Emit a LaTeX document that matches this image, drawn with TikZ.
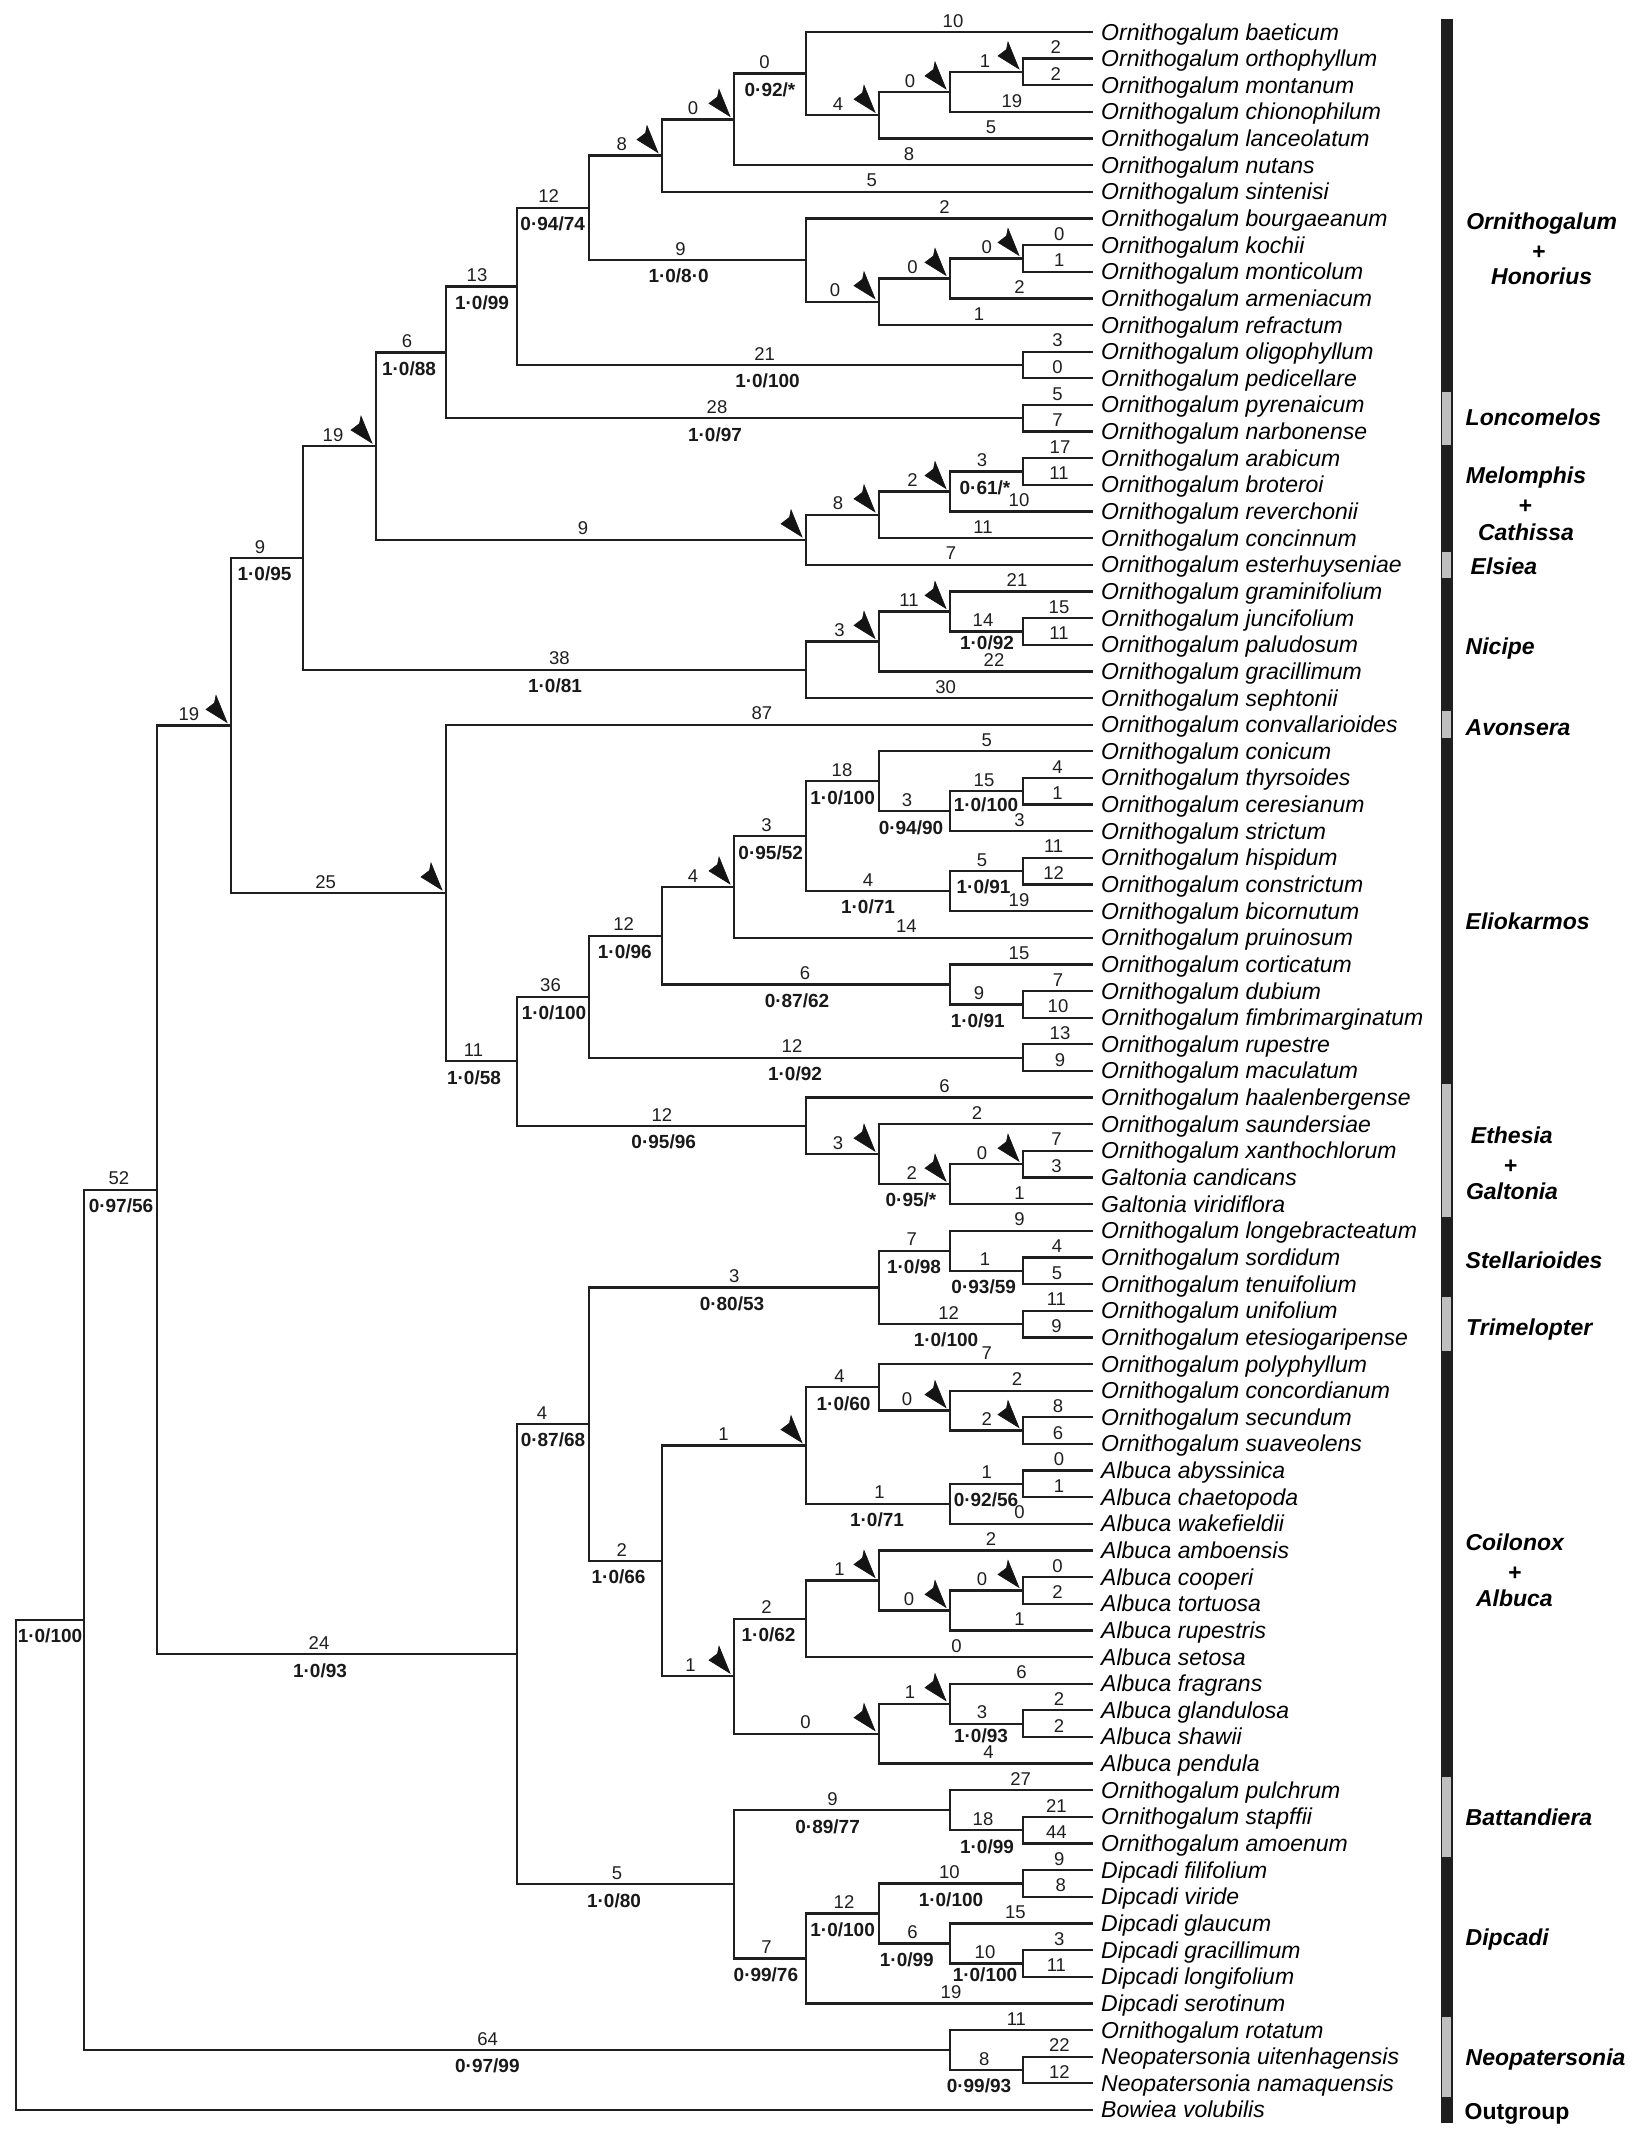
\documentclass[tikz,border=0pt]{standalone}
\usepackage{fontspec}
\setmainfont{Liberation Sans}
\newcommand\nd[3]{\coordinate (#1) at (#2,{Y(#3)});}
\newcommand\bn[5]{\draw[branch] (#1) |- (#2); \node[num] (n#2) at (#3,{Y(#4)-4.9}) {#5};}
\newcommand\bs[7]{\draw[branch] (#1) |- (#2); \node[num] (n#2) at (#3,{Y(#5)-4.9}) {#6}; \node[sup] (s#2) at (#4,{Y(#5)+22.8}) {#7};}
\newcommand\bsu[8]{\draw[branch] (#1) |- (#2); \node[num] (n#2) at (#3,{Y(#5)-4.9}) {#6}; \node[sup] (s#2) at (#4,{Y(#5)+#8}) {#7};}
\newcommand\fl[1]{\fill[flag] ([shift={(-4,-3)}]#1) -- ++(-11,-27) -- ++(-1.5,7.5) -- ++(-8.5,6.5) -- cycle;}
\begin{document}
\begin{tikzpicture}[x=1pt,y=-1pt,
  declare function={Y(\k)=32+(\k-1)*26.64;},
  branch/.style={line width=2.3pt, draw=black!88},
  num/.style={inner sep=0pt, anchor=base, font=\fontsize{18.5}{20}\selectfont, text=black!88},
  sup/.style={inner sep=0pt, anchor=base, font=\fontsize{19}{21}\selectfont\bfseries, text=black!90},
  leaf/.style={inner sep=0pt, anchor=base west, font=\fontsize{23}{25}\selectfont\itshape},
  clade/.style={inner sep=0pt, anchor=base west, font=\fontsize{23}{25}\selectfont\bfseries\itshape},
  cladec/.style={clade, anchor=base},
  flag/.style={fill=black!92, draw=black!92, line width=0.6pt, line join=miter}]
\useasboundingbox[fill=white] (0,0) rectangle (1633,2142);

% leaves
\foreach \i/\nm in {1/Ornithogalum baeticum,2/Ornithogalum orthophyllum,3/Ornithogalum montanum,4/Ornithogalum chionophilum,5/Ornithogalum lanceolatum,6/Ornithogalum nutans,7/Ornithogalum sintenisi,8/Ornithogalum bourgaeanum,9/Ornithogalum kochii,10/Ornithogalum monticolum,11/Ornithogalum armeniacum,12/Ornithogalum refractum,13/Ornithogalum oligophyllum,14/Ornithogalum pedicellare,15/Ornithogalum pyrenaicum,16/Ornithogalum narbonense,17/Ornithogalum arabicum,18/Ornithogalum broteroi,19/Ornithogalum reverchonii,20/Ornithogalum concinnum,21/Ornithogalum esterhuyseniae,22/Ornithogalum graminifolium,23/Ornithogalum juncifolium,24/Ornithogalum paludosum,25/Ornithogalum gracillimum,26/Ornithogalum sephtonii,27/Ornithogalum convallarioides,28/Ornithogalum conicum,29/Ornithogalum thyrsoides,30/Ornithogalum ceresianum,31/Ornithogalum strictum,32/Ornithogalum hispidum,33/Ornithogalum constrictum,34/Ornithogalum bicornutum,35/Ornithogalum pruinosum,36/Ornithogalum corticatum,37/Ornithogalum dubium,38/Ornithogalum fimbrimarginatum,39/Ornithogalum rupestre,40/Ornithogalum maculatum,41/Ornithogalum haalenbergense,42/Ornithogalum saundersiae,43/Ornithogalum xanthochlorum,44/Galtonia candicans,45/Galtonia viridiflora,46/Ornithogalum longebracteatum,47/Ornithogalum sordidum,48/Ornithogalum tenuifolium,49/Ornithogalum unifolium,50/Ornithogalum etesiogaripense,51/Ornithogalum polyphyllum,52/Ornithogalum concordianum,53/Ornithogalum secundum,54/Ornithogalum suaveolens,55/Albuca abyssinica,56/Albuca chaetopoda,57/Albuca wakefieldii,58/Albuca amboensis,59/Albuca cooperi,60/Albuca tortuosa,61/Albuca rupestris,62/Albuca setosa,63/Albuca fragrans,64/Albuca glandulosa,65/Albuca shawii,66/Albuca pendula,67/Ornithogalum pulchrum,68/Ornithogalum stapffii,69/Ornithogalum amoenum,70/Dipcadi filifolium,71/Dipcadi viride,72/Dipcadi glaucum,73/Dipcadi gracillimum,74/Dipcadi longifolium,75/Dipcadi serotinum,76/Ornithogalum rotatum,77/Neopatersonia uitenhagensis,78/Neopatersonia namaquensis,79/Bowiea volubilis}{
  \coordinate (l\i) at (1093,{Y(\i)});
  \node[leaf] (t\i) at (1101,{Y(\i)+8}) {\nm};
}

% internal nodes
\nd{root}{16}{69.80301}
\nd{A}{84}{60.60602}
\nd{B}{157}{44.46204}
\nd{C}{231}{27.02954}
\nd{D}{517}{61.89453}
\nd{E}{303}{20.74072}
\nd{F}{446}{33.31836}
\nd{G}{376}{16.54395}
\nd{Nic}{806}{24.9375}
\nd{H}{446}{13.02539}
\nd{Melo}{806}{20.0625}
\nd{I}{517}{10.55078}
\nd{Lonc}{1023}{15.5}
\nd{J}{589}{7.6015625}
\nd{Olig}{1023}{13.5}
\nd{K}{662}{5.640625}
\nd{L}{806}{9.5625}
\nd{M}{734}{4.28125}
\nd{N}{806}{2.5625}
\nd{O}{879}{4.125}
\nd{P}{950}{3.25}
\nd{Q}{1023}{2.5}
\nd{R}{879}{11.125}
\nd{S}{950}{10.25}
\nd{T}{1023}{9.5}
\nd{U}{879}{19.125}
\nd{V}{950}{18.25}
\nd{W}{1023}{17.5}
\nd{X}{879}{23.875}
\nd{Yy}{950}{22.75}
\nd{Z}{1023}{23.5}
\nd{AA}{517}{39.63672}
\nd{AB}{589}{37.2109375}
\nd{AC}{806}{42.0625}
\nd{AD}{662}{34.921875}
\nd{AE}{1023}{39.5}
\nd{AF}{734}{33.09375}
\nd{AG}{950}{36.75}
\nd{AH}{1023}{37.5}
\nd{AI}{806}{31.1875}
\nd{AJ}{879}{29.125}
\nd{AK}{950}{33.25}
\nd{AL}{950}{30.25}
\nd{AM}{1023}{29.5}
\nd{AN}{1023}{32.5}
\nd{AO}{879}{43.125}
\nd{AP}{950}{44.25}
\nd{AQ}{1023}{43.5}
\nd{AR}{589}{53.25781}
\nd{AS}{734}{70.53125}
\nd{AT}{879}{48.125}
\nd{AU}{662}{58.39063}
\nd{AV}{950}{46.75}
\nd{AW}{1023}{49.5}
\nd{AX}{1023}{47.5}
\nd{AY}{806}{54.0625}
\nd{AZ}{734}{62.71875}
\nd{BA}{879}{51.875}
\nd{BB}{950}{56.25}
\nd{BC}{950}{52.75}
\nd{BD}{1023}{53.5}
\nd{BE}{1023}{55.5}
\nd{BF}{806}{60.5625}
\nd{BG}{879}{64.875}
\nd{BH}{879}{59.125}
\nd{BI}{950}{60.25}
\nd{BJ}{1023}{59.5}
\nd{BK}{950}{63.75}
\nd{BL}{1023}{64.5}
\nd{BM}{950}{67.75}
\nd{BN}{806}{73.3125}
\nd{BO}{1023}{68.5}
\nd{BP}{879}{71.625}
\nd{BQ}{1023}{70.5}
\nd{BR}{950}{72.75}
\nd{BS}{1023}{73.5}
\nd{Neo}{950}{76.75}
\nd{BT}{1023}{77.5}

% branches
\draw[branch] (root) |- (A); \node[sup] (sA) at (50,{Y(60.60602)+22.8}) {1·0/100};
\draw[branch] (root) |- (l79);
\bs{A}{B}{119}{121}{44.46204}{52}{0·97/56}
\bs{A}{Neo}{487.6}{487.4}{76.75}{64}{0·97/99}
\bn{B}{C}{189}{27.02954}{19}
\bs{B}{D}{319}{320}{61.89453}{24}{1·0/93}
\bs{C}{E}{260}{264.5}{20.74072}{9}{1·0/95}
\bn{C}{F}{325.6}{33.31836}{25}
\bn{E}{G}{333}{16.54395}{19}
\bs{E}{Nic}{559.4}{555}{24.9375}{38}{1·0/81}
\bs{G}{H}{407}{409}{13.02539}{6}{1·0/88}
\bn{G}{Melo}{583}{20.0625}{9}
\bs{H}{I}{477}{482}{10.55078}{13}{1·0/99}
\bs{H}{Lonc}{717}{715}{15.5}{28}{1·0/97}
\bs{I}{J}{548.7}{552.7}{7.6015625}{12}{0·94/74}
\bs{I}{Olig}{764.6}{767.5}{13.5}{21}{1·0/100}
\bn{J}{K}{621.8}{5.640625}{8}
\bs{J}{L}{680.4}{678.6}{9.5625}{9}{1·0/8·0}
\bn{K}{M}{692.9}{4.28125}{0}
\bn{K}{l7}{871.8}{7}{5}
\bs{M}{N}{764.6}{770}{2.5625}{0}{0·92/*}
\bn{M}{l6}{909}{6}{8}
\bn{N}{l1}{953}{1}{10}
\bn{N}{O}{837.9}{4.125}{4}
\bn{O}{P}{910}{3.25}{0}
\bn{O}{l5}{991}{5}{5}
\bn{P}{Q}{985}{2.5}{1}
\bn{P}{l4}{1011.8}{4}{19}
\bn{Q}{l2}{1055.7}{2}{2}
\bn{Q}{l3}{1055.7}{3}{2}
\bn{L}{l8}{944.6}{8}{2}
\bn{L}{R}{835}{11.125}{0}
\bn{R}{S}{912.5}{10.25}{0}
\bn{R}{l12}{979}{12}{1}
\bn{S}{T}{986.8}{9.5}{0}
\bn{S}{l11}{1019.6}{11}{2}
\bn{T}{l9}{1059.3}{9}{0}
\bn{T}{l10}{1059.3}{10}{1}
\bn{Olig}{l13}{1057.5}{13}{3}
\bn{Olig}{l14}{1057.5}{14}{0}
\bn{Lonc}{l15}{1057.5}{15}{5}
\bn{Lonc}{l16}{1057.5}{16}{7}
\bn{Melo}{U}{837.9}{19.125}{8}
\bn{Melo}{l21}{951}{21}{7}
\bn{U}{V}{912.5}{18.25}{2}
\bn{U}{l20}{983}{20}{11}
\bs{V}{W}{982}{985}{17.5}{3}{0·61/*}
\bn{V}{l19}{1019}{19}{10}
\bn{W}{l17}{1060}{17}{17}
\bn{W}{l18}{1059}{18}{11}
\bn{Nic}{X}{839.6}{23.875}{3}
\bn{Nic}{l26}{945.7}{26}{30}
\bn{X}{Yy}{909}{22.75}{11}
\bn{X}{l25}{994}{25}{22}
\bn{Yy}{l22}{1017}{22}{21}
\bsu{Yy}{Z}{983}{987}{23.5}{14}{1·0/92}{18.3}
\bn{Z}{l23}{1059}{23}{15}
\bn{Z}{l24}{1059}{24}{11}
\bn{F}{l27}{761.8}{27}{87}
\bs{F}{AA}{473.5}{474}{39.63672}{11}{1·0/58}
\bs{AA}{AB}{550.5}{554}{37.2109375}{36}{1·0/100}
\bs{AA}{AC}{661.8}{663.7}{42.0625}{12}{0·95/96}
\bs{AB}{AD}{623.6}{624.8}{34.921875}{12}{1·0/96}
\bs{AB}{AE}{792}{795}{39.5}{12}{1·0/92}
\bn{AE}{l39}{1060}{39}{13}
\bn{AE}{l40}{1060}{40}{9}
\bn{AD}{AF}{692.9}{33.09375}{4}
\bs{AD}{AG}{805}{797}{36.75}{6}{0·87/62}
\bn{AG}{l36}{1019}{36}{15}
\bs{AG}{AH}{979}{977.7}{37.5}{9}{1·0/91}
\bn{AH}{l37}{1058}{37}{7}
\bn{AH}{l38}{1058}{38}{10}
\bs{AF}{AI}{766.4}{770.7}{31.1875}{3}{0·95/52}
\bn{AF}{l35}{906.4}{35}{14}
\bs{AI}{AJ}{842}{842.6}{29.125}{18}{1·0/100}
\bs{AI}{AK}{868}{868}{33.25}{4}{1·0/71}
\bn{AJ}{l28}{986.8}{28}{5}
\bs{AJ}{AL}{907}{911}{30.25}{3}{0·94/90}
\bsu{AL}{AM}{984}{986}{29.5}{15}{1·0/100}{20.5}
\bn{AL}{l31}{1019.6}{31}{3}
\bn{AM}{l29}{1057.5}{29}{4}
\bn{AM}{l30}{1057.5}{30}{1}
\bs{AK}{AN}{982}{983.6}{32.5}{5}{1·0/91}
\bn{AK}{l34}{1019}{34}{19}
\bn{AN}{l32}{1053.6}{32}{11}
\bn{AN}{l33}{1053.6}{33}{12}
\bn{AC}{l41}{944.6}{41}{6}
\bn{AC}{AO}{837.9}{43.125}{3}
\bn{AO}{l42}{977}{42}{2}
\bs{AO}{AP}{911.8}{911}{44.25}{2}{0·95/*}
\bn{AP}{AQ}{982}{43.5}{0}
\bn{AP}{l45}{1019.6}{45}{1}
\bn{AQ}{l43}{1056.4}{43}{7}
\bn{AQ}{l44}{1056.4}{44}{3}
\bs{D}{AR}{542}{553}{53.25781}{4}{0·87/68}
\bs{D}{AS}{617}{614}{70.53125}{5}{1·0/80}
\bs{AR}{AT}{734.3}{732}{48.125}{3}{0·80/53}
\bs{AR}{AU}{621.8}{618.6}{58.39063}{2}{1·0/66}
\bs{AT}{AV}{911.8}{914}{46.75}{7}{1·0/98}
\bs{AT}{AW}{948.6}{946}{49.5}{12}{1·0/100}
\bn{AV}{l46}{1019.6}{46}{9}
\bs{AV}{AX}{985}{983.7}{47.5}{1}{0·93/59}
\bn{AX}{l47}{1057}{47}{4}
\bn{AX}{l48}{1057}{48}{5}
\bn{AW}{l49}{1056.4}{49}{11}
\bn{AW}{l50}{1056.4}{50}{9}
\bn{AU}{AY}{723.6}{54.0625}{1}
\bn{AU}{AZ}{690.4}{62.71875}{1}
\bs{AY}{BA}{839.6}{843.6}{51.875}{4}{1·0/60}
\bs{AY}{BB}{879.6}{877}{56.25}{1}{1·0/71}
\bn{BA}{l51}{986.8}{51}{7}
\bn{BA}{BC}{907}{52.75}{0}
\bn{BC}{l52}{1017}{52}{2}
\bn{BC}{BD}{986.8}{53.5}{2}
\bn{BD}{l53}{1058}{53}{8}
\bn{BD}{l54}{1058}{54}{6}
\bs{BB}{BE}{986.8}{986}{55.5}{1}{0·92/56}
\bn{BB}{l57}{1019.6}{57}{0}
\bn{BE}{l55}{1059}{55}{0}
\bn{BE}{l56}{1059}{56}{1}
\bs{AZ}{BF}{766.4}{768.6}{60.5625}{2}{1·0/62}
\bn{AZ}{BG}{805.4}{64.875}{0}
\bn{BF}{BH}{839.6}{59.125}{1}
\bn{BF}{l62}{956.4}{62}{0}
\bn{BH}{l58}{991}{58}{2}
\bn{BH}{BI}{909}{60.25}{0}
\bn{BI}{BJ}{982}{59.5}{0}
\bn{BI}{l61}{1019.6}{61}{1}
\bn{BJ}{l59}{1057.5}{59}{0}
\bn{BJ}{l60}{1057.5}{60}{2}
\bn{BG}{BK}{910}{63.75}{1}
\bn{BG}{l66}{988.6}{66}{4}
\bn{BK}{l63}{1021.4}{63}{6}
\bsu{BK}{BL}{982}{981}{64.5}{3}{1·0/93}{18.8}
\bn{BL}{l64}{1059}{64}{2}
\bn{BL}{l65}{1059}{65}{2}
\bs{AS}{BM}{832.5}{827.6}{67.75}{9}{0·89/77}
\bs{AS}{BN}{766.4}{765.9}{73.3125}{7}{0·99/76}
\bn{BM}{l67}{1020.7}{67}{27}
\bs{BM}{BO}{983}{987}{68.5}{18}{1·0/99}
\bn{BO}{l68}{1056.4}{68}{21}
\bn{BO}{l69}{1056.4}{69}{44}
\bs{BN}{BP}{844}{842.6}{71.625}{12}{1·0/100}
\bn{BN}{l75}{951}{75}{19}
\bs{BP}{BQ}{949.3}{951}{70.5}{10}{1·0/100}
\bs{BP}{BR}{912.5}{906.8}{72.75}{6}{1·0/99}
\bn{BQ}{l70}{1059.3}{70}{9}
\bn{BQ}{l71}{1060.7}{71}{8}
\bn{BR}{l72}{1015.4}{72}{15}
\bsu{BR}{BS}{985}{985}{73.5}{10}{1·0/100}{18.3}
\bn{BS}{l73}{1059.3}{73}{3}
\bn{BS}{l74}{1056.4}{74}{11}
\bn{Neo}{l76}{1016.4}{76}{11}
\bs{Neo}{BT}{984.3}{979}{77.5}{8}{0·99/93}
\bn{BT}{l77}{1059.3}{77}{22}
\bn{BT}{l78}{1059.3}{78}{12}

% flags
\foreach \f in {K,M,O,P,Q,R,S,T,G,C,Melo,U,V,X,Yy,F,AF,AO,AP,AQ,AY,BC,BD,AZ,BH,BI,BJ,BG,BK}{\fl{\f}}

% clade bar
\fill[black!88] (1440.5,{Y(1)-13.3}) rectangle (1452.8,{Y(79)+13.3});
\foreach \a/\b in {15/16,21/21,27/27,41/45,49/50,67/69,76/78}{
  \fill[black!25] (1442,{Y(\a)-13.3}) rectangle (1451.3,{Y(\b)+13.3});
}

% clade names
\node[cladec] (c1) at (1541.7,229) {Ornithogalum};
\node[cladec] (c2) at (1538.6,259.7) {+};
\node[cladec] (c3) at (1541.6,284) {Honorius};
\node[clade] (c4) at (1465.5,425) {Loncomelos};
\node[cladec] (c5) at (1526,483) {Melomphis};
\node[cladec] (c6) at (1525,513) {+};
\node[cladec] (c7) at (1526,540) {Cathissa};
\node[clade] (c8) at (1470.5,574) {Elsiea};
\node[clade] (c9) at (1465.5,654.5) {Nicipe};
\node[clade] (c10) at (1465.5,735) {Avonsera};
\node[clade] (c11) at (1465.5,929) {Eliokarmos};
\node[cladec] (c12) at (1511.8,1143.6) {Ethesia};
\node[cladec] (c13) at (1510.3,1173.6) {+};
\node[cladec] (c14) at (1512,1199.6) {Galtonia};
\node[clade] (c15) at (1465.5,1268) {Stellarioides};
\node[clade] (c16) at (1466,1335.5) {Trimelopter};
\node[cladec] (c17) at (1514.7,1550.7) {Coilonox};
\node[cladec] (c18) at (1514.6,1580.7) {+};
\node[cladec] (c19) at (1514.4,1606) {Albuca};
\node[clade] (c20) at (1465.5,1825.3) {Battandiera};
\node[clade] (c21) at (1465.5,1945.5) {Dipcadi};
\node[clade] (c22) at (1465.5,2065) {Neopatersonia};
\node[clade, font=\fontsize{23}{25}\selectfont\bfseries] (c23) at (1464.5,2119.7) {Outgroup};
\end{tikzpicture}
\end{document}
